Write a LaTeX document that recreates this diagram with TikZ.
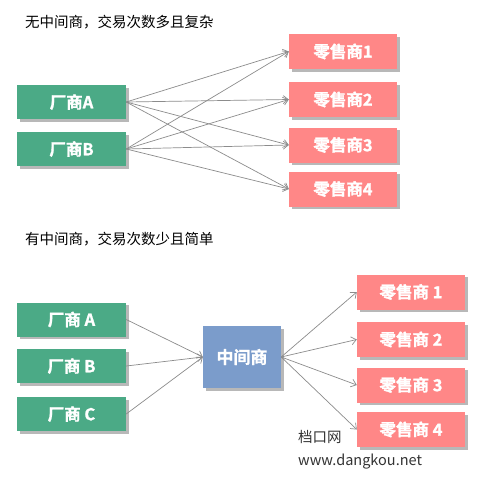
\documentclass[tikz,border=0pt]{standalone}
\usepackage{fontspec}
\setmainfont{Noto Sans CJK SC}[BoldFont={Noto Sans CJK SC Bold}, BoldFeatures={FakeBold=1.2}]
\usetikzlibrary{arrows.meta,shadows}
\definecolor{mfg}{HTML}{4BAA86}
\definecolor{ret}{HTML}{FF8787}
\definecolor{mid}{HTML}{7B9CCB}
\definecolor{arr}{HTML}{8C8C8C}
\definecolor{wm}{HTML}{333333}
\tikzset{
  box/.style={rectangle, inner sep=0pt, text=white, font=\fontsize{16.5}{16.5}\selectfont\bfseries,
    drop shadow={shadow xshift=2.5pt, shadow yshift=-2.5pt, fill=black, opacity=0.28}},
  mfgbox/.style={box, fill=mfg, minimum width=109pt, minimum height=34pt},
  retbox/.style={box, fill=ret, minimum width=108pt, minimum height=35pt},
  midbox/.style={box, fill=mid, minimum width=78pt, minimum height=62pt, font=\fontsize{17}{17}\selectfont\bfseries},
  conn/.style={draw=arr, line width=0.7pt, -{Straight Barb[length=5pt,width=8pt]}},
  title/.style={inner sep=0pt, anchor=west, font=\fontsize{14.5}{14.5}\selectfont},
  wmtext/.style={inner sep=0pt, anchor=west, text=wm, font=\fontsize{14.5}{14.5}\selectfont}
}
\begin{document}
\begin{tikzpicture}[x=1pt,y=-1pt]
\useasboundingbox[fill=white] (0,0) rectangle (480,485);
% top section
\node[title] (t1) at (25,22) {无中间商，交易次数多且复杂};
\node[mfgbox] (A) at (71.5,102) {厂商A};
\node[mfgbox] (B) at (71.5,149) {厂商B};
\node[retbox] (R1) at (343,51.5) {零售商1};
\node[retbox] (R2) at (343,99.5) {零售商2};
\node[retbox] (R3) at (343,145) {零售商3};
\node[retbox] (R4) at (343,189) {零售商4};
\foreach \s in {A,B}{
  \foreach \r in {R1,R2,R3,R4}{
    \draw[conn] (\s.east) -- (\r.west);
  }
}
% bottom section
\node[title] (t2) at (25,239) {有中间商，交易次数少且简单};
\node[mfgbox] (CA) at (71.5,319.5) {厂商 A};
\node[mfgbox] (CB) at (71.5,366) {厂商 B};
\node[mfgbox] (CC) at (71.5,414) {厂商 C};
\node[midbox] (M) at (242,357) {中间商};
\node[retbox] (S1) at (411,292) {零售商 1};
\node[retbox] (S2) at (411,339.5) {零售商 2};
\node[retbox] (S3) at (411,385) {零售商 3};
\node[retbox] (S4) at (411,429.5) {零售商 4};
\foreach \s in {CA,CB,CC}{
  \draw[conn] (\s.east) -- (M.west);
}
\foreach \r in {S1,S2,S3,S4}{
  \draw[conn] (M.east) -- (\r.west);
}
\node[wmtext] (w1) at (298,437) {档口网};
\node[wmtext] (w2) at (298,462) {www.dangkou.net};
\end{tikzpicture}
\end{document}
